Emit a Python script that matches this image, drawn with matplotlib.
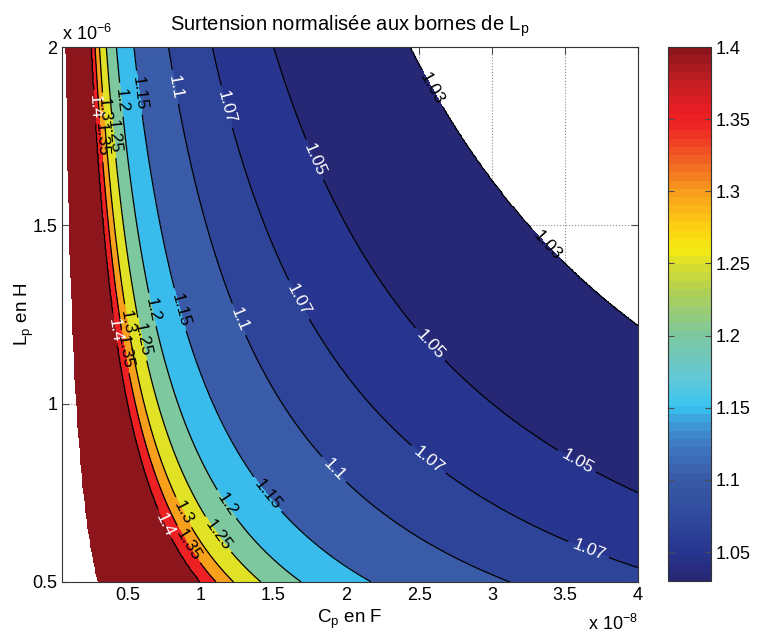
import numpy as np
import matplotlib
matplotlib.use('Agg')
import matplotlib.pyplot as plt
from matplotlib.colors import LinearSegmentedColormap, Normalize
from matplotlib.cm import ScalarMappable
from matplotlib.ticker import FuncFormatter

plt.rcParams['font.family'] = ['Liberation Sans', 'DejaVu Sans']
plt.rcParams['mathtext.fontset'] = 'custom'
plt.rcParams['mathtext.rm'] = 'Liberation Sans'
plt.rcParams['mathtext.it'] = 'Liberation Sans:italic'

niveaux = [1.03, 1.05, 1.07, 1.1, 1.15, 1.2, 1.25, 1.3, 1.35, 1.4]
produit_LC = [4.88e-14, 3.0e-14, 2.16e-14, 1.56e-14, 1.085e-14,
              0.845e-14, 0.707e-14, 0.613e-14, 0.553e-14, 0.497e-14]
produit_limite = 0.148e-14   # en dessous : zone non definie (blanche)

# bornes des axes
C_min, C_max = 0.05e-8, 4e-8
L_min, L_max = 0.5e-6, 2e-6
xticks = [0.5, 1, 1.5, 2, 2.5, 3, 3.5, 4]
yticks = [0.5, 1, 1.5, 2]
cb_ticks = [1.05, 1.1, 1.15, 1.2, 1.25, 1.3, 1.35, 1.4]

# positions des etiquettes : (niveau, Lp en uH)
etiquettes = [(1.4, 1.832), (1.35, 1.739), (1.3, 1.823), (1.25, 1.748), (1.2, 1.851),
              (1.15, 1.871), (1.1, 1.888), (1.07, 1.832), (1.05, 1.683), (1.03, 1.885),
              (1.4, 1.207), (1.35, 1.145), (1.3, 1.229), (1.25, 1.179), (1.2, 1.263),
              (1.15, 1.263), (1.1, 1.235), (1.07, 1.291), (1.05, 1.165), (1.03, 1.445),
              (1.4, 0.66), (1.35, 0.604), (1.3, 0.694), (1.25, 0.632), (1.2, 0.716),
              (1.15, 0.744), (1.1, 0.814), (1.07, 0.842), (1.05, 0.837), (1.07, 0.59)]
etiq_blanches = ['1.4', '1.1', '1.07', '1.05']

# carte de couleurs (type jet imprime)
ancres = [(1.03, (38, 40, 118)), (1.05, (40, 55, 145)), (1.07, (48, 72, 155)),
          (1.10, (58, 90, 167)), (1.125, (63, 125, 195)), (1.14, (62, 160, 220)),
          (1.15, (55, 197, 242)), (1.17, (100, 200, 215)), (1.20, (125, 200, 160)),
          (1.23, (175, 207, 85)), (1.25, (215, 222, 45)), (1.26, (245, 235, 20)),
          (1.275, (252, 210, 18)), (1.30, (248, 160, 28)), (1.32, (242, 105, 35)),
          (1.345, (237, 40, 36)), (1.355, (237, 30, 36)), (1.38, (190, 30, 35)),
          (1.40, (140, 22, 28))]
v0, v1 = ancres[0][0], ancres[-1][0]
cmap = LinearSegmentedColormap.from_list(
    'surt', [((v - v0) / (v1 - v0), np.array(c) / 255) for v, c in ancres]).resampled(64)
norm = Normalize(v0, v1)

# champ sur la grille
Cg = np.linspace(C_min, C_max, 800)
Lg = np.linspace(L_min, L_max, 600)
C, L = np.meshgrid(Cg, Lg)
P = C * L
Z = np.interp(P, produit_LC[::-1], niveaux[::-1], left=1.6, right=1.0)
Z[P < produit_limite] = np.nan

fig = plt.figure(figsize=(7.6, 6.36), dpi=100)
ax = fig.add_axes([62 / 760, 54 / 636, 576 / 760, 535 / 636])
cax = fig.add_axes([668 / 760, 55 / 636, 43 / 760, 534 / 636])

ax.grid(True, linestyle=':', color='0.55', linewidth=0.8)
ax.set_axisbelow(True)

couleurs = [cmap(norm(v)) for v in niveaux]
ax.contourf(C, L, Z, levels=niveaux + [1.7], colors=couleurs)
cs = ax.contour(C, L, Z, levels=niveaux, colors='k', linewidths=0.9)

lc = dict(zip(niveaux, produit_LC))
pos = [(lc[n] / (y * 1e-6), y * 1e-6) for n, y in etiquettes]
textes = ax.clabel(cs, manual=pos, inline=True, fmt='%g', fontsize=12.5)
for t in textes:
    t.set_color('white' if t.get_text() in etiq_blanches else 'black')

ax.set_xlim(C_min, C_max)
ax.set_ylim(L_min, L_max)
ax.set_xticks([v * 1e-8 for v in xticks])
ax.set_yticks([v * 1e-6 for v in yticks])
ax.xaxis.set_major_formatter(FuncFormatter(lambda v, p: '%g' % round(v / 1e-8, 3)))
ax.yaxis.set_major_formatter(FuncFormatter(lambda v, p: '%g' % round(v / 1e-6, 3)))
ax.tick_params(direction='in', top=True, right=True, length=5, labelsize=13,
               color='0.3')
for s in ax.spines.values():
    s.set_color('0.2')

ax.set_title(r'Surtension normalisée aux bornes de L$_\mathregular{p}$', fontsize=14.5, pad=12)
ax.set_xlabel(r'C$_\mathregular{p}$ en F', fontsize=13.5, labelpad=3)
ax.set_ylabel(r'L$_\mathregular{p}$ en H', fontsize=13.5)
ax.yaxis.set_label_coords(-0.045, 0.5)
fig.text(62 / 760, 1 - 40 / 636, r'x 10$^{\mathregular{-6}}$', fontsize=13,
         ha='left', va='baseline')
fig.text(638 / 760, 1 - 630 / 636, r'x 10$^{\mathregular{-8}}$', fontsize=13,
         ha='right', va='baseline')

sm = ScalarMappable(norm=norm, cmap=cmap)
cb = fig.colorbar(sm, cax=cax)
cb.set_ticks(cb_ticks)
cb.ax.yaxis.set_major_formatter(FuncFormatter(lambda v, p: '%g' % round(v, 3)))
cax.tick_params(direction='in', left=True, right=True, length=4, labelsize=13,
                color='0.3')
cb.outline.set_edgecolor('0.2')

fig.savefig('out.png', dpi=100)
